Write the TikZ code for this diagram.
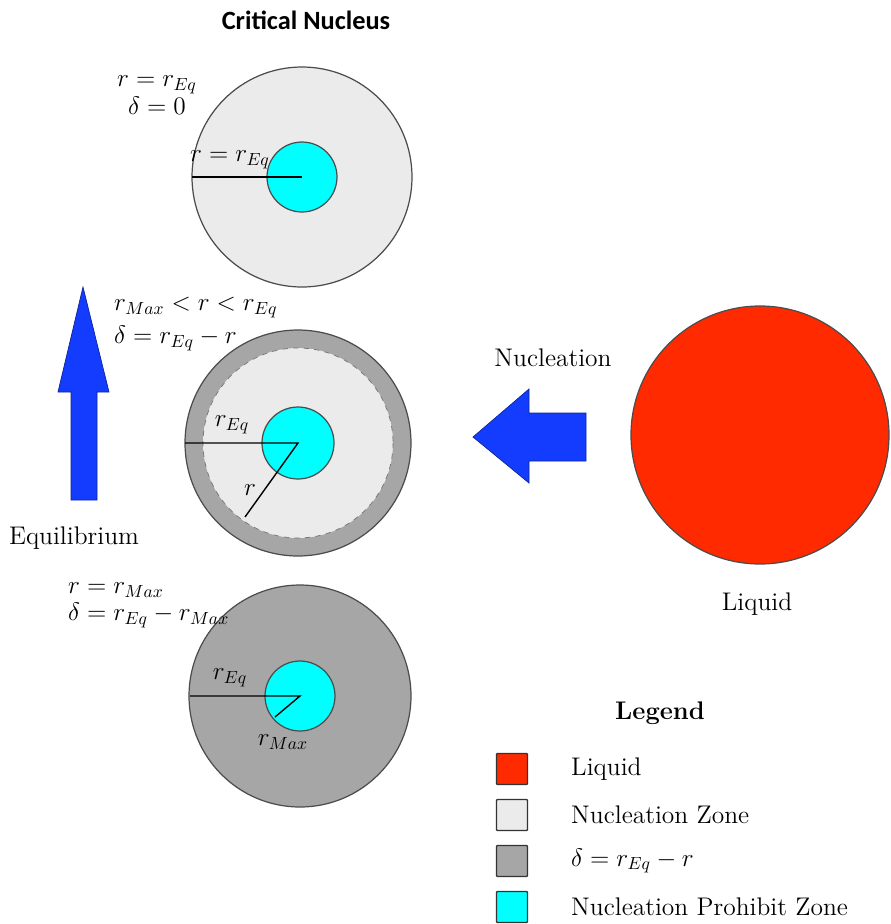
\documentclass[tikz,border=0pt]{standalone}
\usepackage{fontspec}
\setsansfont{Carlito}
\usetikzlibrary{positioning}
\definecolor{liquidred}{RGB}{255,42,0}
\definecolor{zonegray}{RGB}{235,235,235}
\definecolor{deltagray}{RGB}{166,166,166}
\definecolor{prohibit}{RGB}{0,255,255}
\definecolor{arrowblue}{RGB}{20,60,255}
\begin{document}
\begin{tikzpicture}[x=0.02cm,y=-0.02cm,font=\fontsize{14.5}{15.5}\selectfont,
 zone/.style={draw=black!70,line width=0.7pt},
 radius line/.style={line width=0.8pt},
 blockarrow/.style={fill=arrowblue,draw=arrowblue!60!black,line width=0.4pt},
 key/.style={draw=black!80,line width=0.8pt,rounded corners=0.5pt,minimum size=0.62cm,inner sep=0pt}]
\useasboundingbox (0,0) rectangle (891,924);
%critical nucleus
\node[font=\fontsize{15}{17}\selectfont\sffamily\bfseries] (title) at (306,20) {Critical Nucleus};
\coordinate (c1) at (302,177);
\draw[zone,fill=zonegray] (c1) circle[radius=110];
\draw[zone,fill=prohibit] (c1) circle[radius=35];
\coordinate (e1) at (192,177);
\draw[radius line] (e1) -- (c1);
\node (l1) at (230,160) {$r=r_{Eq}$};
\node[align=center] (cond1) at (157,95) {$r=r_{Eq}$\\$\delta=0$};
%growing nucleus
\coordinate (c2) at (298,443);
\draw[zone,fill=deltagray] (c2) circle[radius=113];
\draw[dashed,draw=black!55,line width=0.4pt,fill=zonegray] (c2) circle[radius=95];
\draw[zone,fill=prohibit] (c2) circle[radius=36];
\coordinate (e2) at (185,443);
\coordinate (e3) at (245,517);
\draw[radius line] (e2) -- (c2) -- (e3);
\node (l2) at (232,425) {$r_{Eq}$};
\node (l3) at (250,490) {$r$};
\node[align=left,anchor=west] (cond2) at (108,324) {$r_{Max}<r<r_{Eq}$\\[3pt]$\delta=r_{Eq}-r$};
%nucleus at r max
\coordinate (c3) at (300,696);
\draw[zone,fill=deltagray] (c3) circle[radius=111];
\draw[zone,fill=prohibit] (c3) circle[radius=35];
\coordinate (e4) at (190,696);
\coordinate (e5) at (275,717);
\draw[radius line] (e4) -- (c3) -- (e5);
\node (l4) at (230,678) {$r_{Eq}$};
\node (l5) at (283,742) {$r_{Max}$};
\node[align=left,anchor=west] (cond3) at (62,605) {$r=r_{Max}$\\$\delta=r_{Eq}-r_{Max}$};
%arrows
\draw[blockarrow] (83,287)--(109,392)--(97,392)--(97,500)--(71,500)--(71,392)--(58,392)--cycle;
\node (eq) at (74,538) {Equilibrium};
\draw[blockarrow] (473,437)--(529,389)--(529,413)--(586,413)--(586,461)--(529,461)--(529,483)--cycle;
\node (nuc) at (553,358) {Nucleation};
%liquid
\coordinate (c4) at (760,435);
\draw[zone,fill=liquidred] (c4) circle[radius=129];
\node (liq) at (757,604) {Liquid};
%legend
\node[font=\fontsize{14.5}{16}\selectfont\bfseries] (leg) at (660,713) {Legend};
\foreach \col/\txt [count=\i] in {liquidred/Liquid,zonegray/Nucleation Zone,deltagray/{$\delta=r_{Eq}-r$},prohibit/Nucleation Prohibit Zone}
{
\node[key,fill=\col] (k\i) at (512,{769+46*(\i-1)}) {};
\node[anchor=west] (t\i) at (565,{769+46*(\i-1)}) {\txt};
}
\end{tikzpicture}
\end{document}
